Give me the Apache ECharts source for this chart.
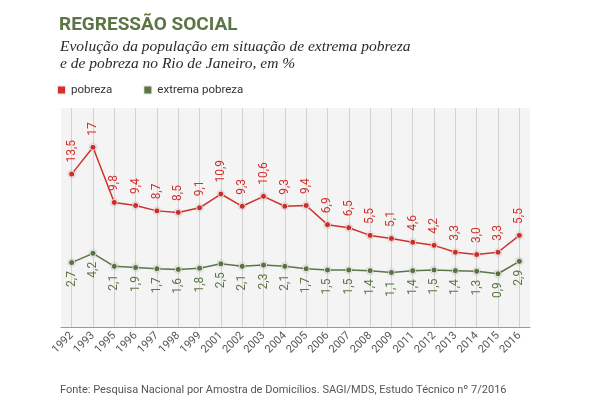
<!DOCTYPE html>
<html>
<head>
<meta charset="utf-8">
<script src="https://cdn.jsdelivr.net/npm/echarts@6/dist/echarts.min.js"></script>
<style>
  html, body { margin: 0; padding: 0; background: #fff; }
  #main { width: 600px; height: 400px; }
</style>
</head>
<body>
<div id="main"></div>
<script>
var anos = ['1992', '1993', '1995', '1996', '1997', '1998', '1999', '2001', '2002', '2003', '2004',
            '2005', '2006', '2007', '2008', '2009', '2011', '2012', '2013', '2014', '2015', '2016'];
var pobreza = [13.5, 17, 9.8, 9.4, 8.7, 8.5, 9.1, 10.9, 9.3, 10.6, 9.3,
               9.4, 6.9, 6.5, 5.5, 5.1, 4.6, 4.2, 3.3, 3.0, 3.3, 5.5];
var extrema = [2.7, 4.2, 2.1, 1.9, 1.7, 1.6, 1.8, 2.5, 2.1, 2.3, 2.1,
               1.7, 1.5, 1.5, 1.4, 1.1, 1.4, 1.5, 1.4, 1.3, 0.9, 2.9];

var vermelho = '#d1302b';
var verde = '#5b7544';

// numero com virgula decimal
function fmt(v) {
    var s = String(v);
    if (s.indexOf('.') == -1 && v < 10) s = s + ',0';
    return s.replace('.', ',');
}
// 17 aparece sem decimal no original
function fmtLabel(p) {
    if (p.value == 17) return '17';
    return fmt(p.value);
}

var myChart = echarts.init(document.getElementById('main'));
var option = {
    backgroundColor: '#fff',
    animation: false,
    title: [{
        text: 'REGRESSÃO SOCIAL',
        left: 54, top: 11,
        textStyle: { color: verde, fontSize: 19, fontWeight: 'bold', fontFamily: 'Roboto' }
    }, {
        text: 'Evolução da população em situação de extrema pobreza\ne de pobreza no Rio de Janeiro, em %',
        left: 55, top: 33,
        textStyle: { color: '#2a2a2a', fontSize: 15.5, fontStyle: 'italic', fontWeight: 'normal',
                     fontFamily: 'Liberation Serif', lineHeight: 17 }
    }, {
        text: 'Fonte: Pesquisa Nacional por Amostra de Domicílios. SAGI/MDS, Estudo Técnico nº 7/2016',
        left: 55, top: 380,
        textStyle: { color: '#555', fontSize: 11, fontWeight: 'normal', fontFamily: 'Roboto' }
    }],
    legend: {
        left: 51, top: 79,
        icon: 'rect',
        itemWidth: 9, itemHeight: 9,
        itemGap: 30,
        textStyle: { color: '#333', fontSize: 11.5, fontFamily: 'Roboto' },
        data: ['pobreza', 'extrema pobreza']
    },
    grid: {
        left: 61, right: 70, top: 108, bottom: 73,
        show: true,
        backgroundColor: '#f4f4f4',
        borderWidth: 0
    },
    xAxis: {
        type: 'category',
        data: anos,
        boundaryGap: true,
        axisLine: { onZero: false, lineStyle: { color: '#9a9a9a', width: 1 } },
        axisTick: { show: false },
        axisLabel: { rotate: 45, color: '#555', fontSize: 11, fontFamily: 'Roboto', margin: 7, interval: 0 },
        splitLine: { show: true, alignWithLabel: true, interval: 0, lineStyle: { color: '#d2d2d2', width: 1 } }
    },
    yAxis: [{
        type: 'value', min: -6.46, max: 22.13, show: false, splitLine: { show: false }
    }, {
        type: 'value', min: -7.72, max: 27.72, show: false, splitLine: { show: false }
    }],
    series: [{
        name: 'pobreza',
        type: 'line',
        yAxisIndex: 0,
        data: pobreza,
        symbol: 'circle',
        symbolSize: 6,
        lineStyle: { color: vermelho, width: 1.5 },
        itemStyle: { color: vermelho, borderColor: 'rgba(255,255,255,0.85)', borderWidth: 1,
                     shadowColor: 'rgba(0,0,0,0.25)', shadowBlur: 2 },
        label: {
            show: true, position: 'top', rotate: 90, align: 'left', verticalAlign: 'middle',
            distance: 8, color: vermelho, fontSize: 12, fontFamily: 'Roboto',
            formatter: fmtLabel
        }
    }, {
        name: 'extrema pobreza',
        type: 'line',
        yAxisIndex: 1,
        data: extrema,
        symbol: 'circle',
        symbolSize: 6,
        lineStyle: { color: verde, width: 1.5 },
        itemStyle: { color: verde, borderColor: 'rgba(255,255,255,0.85)', borderWidth: 1,
                     shadowColor: 'rgba(0,0,0,0.25)', shadowBlur: 2 },
        label: {
            show: true, position: 'bottom', rotate: 90, align: 'right', verticalAlign: 'middle',
            distance: 5, color: verde, fontSize: 12, fontFamily: 'Roboto',
            formatter: function (p) { return fmt(p.value); }
        }
    }]
};
myChart.setOption(option);
</script>
</body>
</html>
